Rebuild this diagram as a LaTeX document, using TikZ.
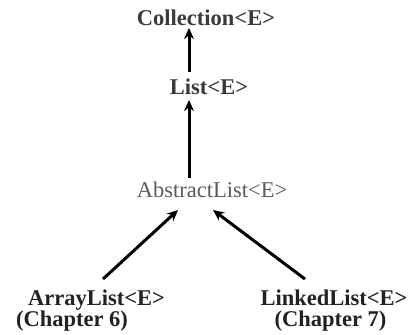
\documentclass[tikz,border=0pt]{standalone}
\usepackage{fontspec}
\setmainfont{Liberation Serif}
\usetikzlibrary{arrows.meta}
\definecolor{txtdark}{HTML}{3A3A3A}
\definecolor{txtgray}{HTML}{5A5A5A}
\definecolor{txtlow}{HTML}{222222}
\tikzset{
  lbl/.style={inner sep=0pt, anchor=base, font=\fontsize{22.5}{27}\selectfont\bfseries, text=txtdark},
  lblreg/.style={inner sep=0pt, anchor=base, font=\fontsize{22.5}{27}\selectfont, text=txtgray},
  lbllow/.style={inner sep=0pt, anchor=base, font=\fontsize{22.5}{27}\selectfont\bfseries, text=txtlow},
  arr/.style={line width=3pt, -{Stealth[length=11pt,width=10pt]}}
}
\begin{document}
\begin{tikzpicture}[x=1pt,y=-1pt]
\useasboundingbox (0,0) rectangle (413,335);
\node[lbl] (coll) at (206,25) {Collection<E>};
\node[lbl] (list) at (209,94.5) {List<E>};
\node[lblreg] (abs) at (212,197.5) {AbstractList<E>};
\node[lbllow] (al) at (96.5,305) {ArrayList<E>};
\node[lbllow] (alc) at (72,326) {(Chapter 6)};
\node[lbllow] (ll) at (334,305) {LinkedList<E>};
\node[lbllow] (llc) at (330.5,326) {(Chapter 7)};
\coordinate (c1) at (189,28);
\coordinate (l1) at (189,72);
\coordinate (l2) at (189,100);
\coordinate (a1) at (189,178);
\coordinate (a2) at (178,210);
\coordinate (a3) at (213,210);
\coordinate (al1) at (103,279);
\coordinate (ll1) at (305,279);
\draw[arr] (l1) -- (c1);
\draw[arr] (a1) -- (l2);
\draw[arr] (al1) -- (a2);
\draw[arr] (ll1) -- (a3);
\end{tikzpicture}
\end{document}
